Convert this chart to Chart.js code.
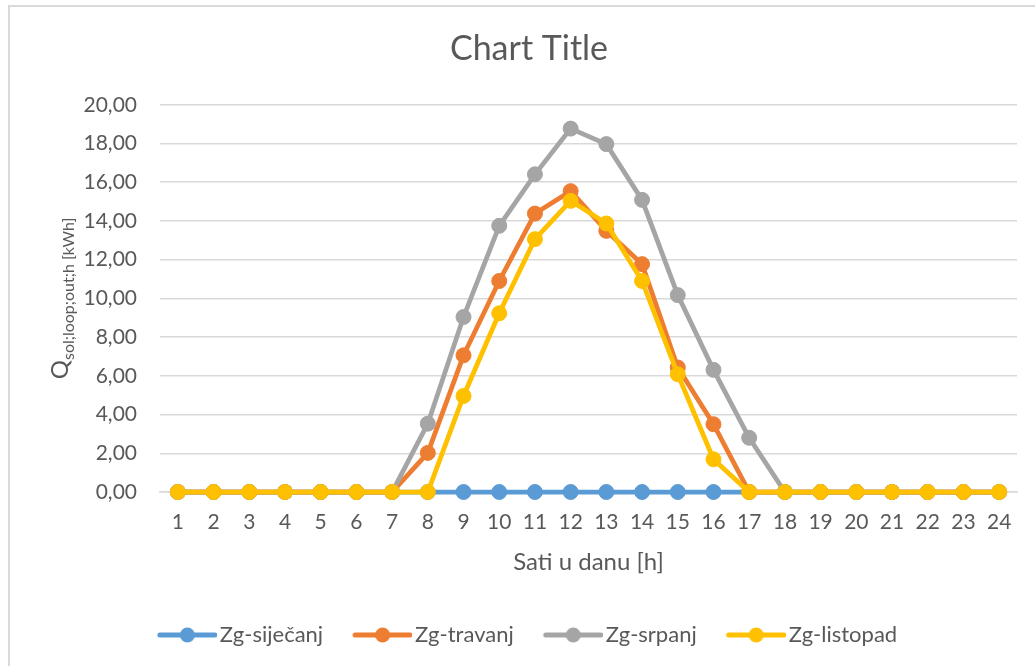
<!DOCTYPE html>
<html>
<head>
<meta charset="utf-8">
<script src="https://cdn.jsdelivr.net/npm/chart.js@4"></script>
<style>
  html, body { margin: 0; padding: 0; background: #fff; overflow: hidden; }
  #frame { position: absolute; left: 8px; top: 5px; width: 1100px; height: 720px; border: 2px solid #d9d9d9; box-sizing: border-box; }
  #wrap { position: absolute; left: 0; top: 0; width: 1050px; height: 656px; }
</style>
</head>
<body>
<div id="frame"></div>
<div id="wrap"><canvas id="chart" width="1050" height="656"></canvas></div>
<script>
// hours of the day
const hours = ['1','2','3','4','5','6','7','8','9','10','11','12','13','14','15','16','17','18','19','20','21','22','23','24'];

const sijecanj = [0,0,0,0,0,0,0,0,0,0,0,0,0,0,0,0,0,0,0,0,0,0,0,0];
const travanj  = [0,0,0,0,0,0,0,2.02,7.06,10.90,14.38,15.54,13.49,11.77,6.43,3.50,0,0,0,0,0,0,0,0];
const srpanj   = [0,0,0,0,0,0,0,3.53,9.04,13.75,16.41,18.77,17.97,15.09,10.17,6.31,2.80,0,0,0,0,0,0,0];
const listopad = [0,0,0,0,0,0,0,0,4.96,9.23,13.06,15.04,13.87,10.90,6.08,1.69,0,0,0,0,0,0,0,0];

const seriesNames = ['Zg-siječanj', 'Zg-travanj', 'Zg-srpanj', 'Zg-listopad'];
const seriesColors = ['#5B9BD5', '#ED7D31', '#A5A5A5', '#FFC000'];

const yMin = 0, yMax = 20, yStep = 2;

const FONT = "Lato, 'Open Sans', sans-serif";
const TXT = '#595959';

// legend symbol: line with a marker in the middle (image is wider than the box so text sits close)
function legendIcon(color) {
  const c = document.createElement('canvas');
  c.width = 64; c.height = 18;
  const g = c.getContext('2d');
  g.strokeStyle = color; g.lineWidth = 5; g.lineCap = 'round';
  g.beginPath(); g.moveTo(7, 9); g.lineTo(62, 9); g.stroke();
  g.fillStyle = color;
  g.beginPath(); g.arc(34.5, 9, 7.5, 0, Math.PI * 2); g.fill();
  return c;
}

const allData = [sijecanj, travanj, srpanj, listopad];
const datasets = allData.map(function (d, i) {
  return {
    label: seriesNames[i],
    data: d,
    borderColor: seriesColors[i],
    backgroundColor: seriesColors[i],
    pointBackgroundColor: seriesColors[i],
    pointBorderColor: seriesColors[i],
    borderWidth: 4.75,
    pointRadius: 7.5,
    pointBorderWidth: 1,
    tension: 0,
    clip: false,
    order: 4 - i   // later series drawn on top, like Excel
  };
});

// y axis title with subscript
const yTitlePlugin = {
  id: 'yTitle',
  afterDraw(chart) {
    const ctx = chart.ctx;
    const area = chart.chartArea;
    const cy = (area.top + area.bottom) / 2;
    ctx.save();
    ctx.fillStyle = TXT;
    ctx.textBaseline = 'alphabetic';
    ctx.textAlign = 'left';
    ctx.font = '24px ' + FONT;
    const wQ = ctx.measureText('Q').width;
    ctx.font = '16px ' + FONT;
    const sub = 'sol;loop;out;h [kWh]';
    const wS = ctx.measureText(sub).width;
    const total = wQ + wS;
    ctx.translate(68, cy);
    ctx.rotate(-Math.PI / 2);
    ctx.font = '24px ' + FONT;
    ctx.fillText('Q', -total / 2, 0);
    ctx.font = '16px ' + FONT;
    ctx.fillText(sub, -total / 2 + wQ, 6);
    ctx.restore();
  }
};

const ctx = document.getElementById('chart');
new Chart(ctx, {
  type: 'line',
  data: { labels: hours, datasets: datasets },
  options: {
    responsive: false,
    animation: false,
    layout: { padding: { left: 8, right: 0, top: 0, bottom: 0 } },
    plugins: {
      title: {
        display: true,
        text: 'Chart Title',
        color: TXT,
        font: { family: FONT, size: 34, weight: 'normal' },
        padding: { top: 29, bottom: 35 }
      },
      legend: {
        position: 'bottom',
        labels: {
          color: TXT,
          font: { family: FONT, size: 22 },
          usePointStyle: true,
          pointStyleWidth: 48,
          boxHeight: 18,
          padding: 33,
          generateLabels: function (chart) {
            return seriesNames.map(function (n, i) {
              return {
                text: n,
                fillStyle: seriesColors[i],
                strokeStyle: seriesColors[i],
                lineWidth: 0,
                pointStyle: legendIcon(seriesColors[i]),
                hidden: false,
                datasetIndex: i,
                fontColor: TXT
              };
            });
          }
        }
      },
      tooltip: { enabled: false }
    },
    scales: {
      x: {
        offset: true,
        grid: { display: false, drawTicks: false },
        border: { display: true, color: '#d9d9d9', width: 1.5 },
        ticks: { color: TXT, font: { family: FONT, size: 21 }, padding: 18, maxRotation: 0, autoSkip: false },
        title: {
          display: true,
          text: 'Sati u danu [h]',
          color: TXT,
          font: { family: FONT, size: 24 },
          padding: { top: 0, bottom: 14 }
        },
        afterFit: function (s) { s.height = 99; }
      },
      y: {
        min: yMin,
        max: yMax,
        grid: { color: '#d9d9d9', lineWidth: 1.5, drawTicks: false },
        border: { display: false },
        ticks: {
          stepSize: yStep,
          color: TXT,
          font: { family: FONT, size: 21 },
          padding: 23,
          callback: function (v) { return v.toFixed(2).replace('.', ','); }
        },
        afterFit: function (s) { s.width = 152; }
      },
      yRight: {
        position: 'right',
        display: true,
        grid: { display: false, drawOnChartArea: false, drawTicks: false },
        border: { display: false },
        ticks: { display: false },
        afterFit: function (s) { s.width = 33; }
      }
    }
  },
  plugins: [yTitlePlugin]
});
</script>
</body>
</html>
